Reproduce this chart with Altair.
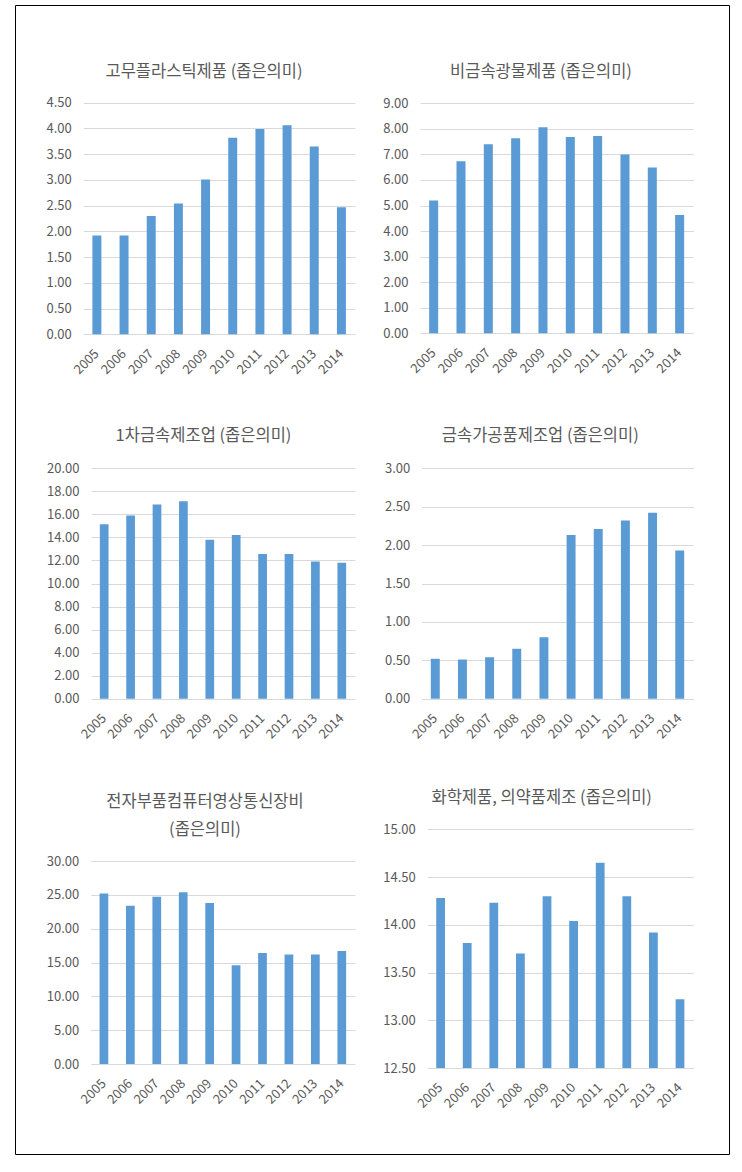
import altair as alt
import pandas as pd

years = ["2005", "2006", "2007", "2008", "2009", "2010", "2011", "2012", "2013", "2014"]

title1 = "고무플라스틱제품 (좁은의미)"
vals1 = [1.92, 1.92, 2.30, 2.54, 3.01, 3.82, 3.99, 4.06, 3.65, 2.47]
ticks1 = [0, 0.5, 1.0, 1.5, 2.0, 2.5, 3.0, 3.5, 4.0, 4.5]

title2 = "비금속광물제품 (좁은의미)"
vals2 = [5.20, 6.73, 7.40, 7.63, 8.06, 7.68, 7.72, 7.00, 6.49, 4.63]
ticks2 = [0, 1, 2, 3, 4, 5, 6, 7, 8, 9]

title3 = "1차금속제조업 (좁은의미)"
vals3 = [15.15, 15.90, 16.85, 17.15, 13.80, 14.20, 12.55, 12.55, 11.90, 11.80]
ticks3 = [0, 2, 4, 6, 8, 10, 12, 14, 16, 18, 20]

title4 = "금속가공품제조업 (좁은의미)"
vals4 = [0.52, 0.51, 0.54, 0.65, 0.80, 2.13, 2.21, 2.32, 2.42, 1.93]
ticks4 = [0, 0.5, 1.0, 1.5, 2.0, 2.5, 3.0]

title5 = ["전자부품컴퓨터영상통신장비", "(좁은의미)"]
vals5 = [25.2, 23.4, 24.7, 25.4, 23.8, 14.6, 16.4, 16.2, 16.2, 16.7]
ticks5 = [0, 5, 10, 15, 20, 25, 30]

title6 = "화학제품, 의약품제조 (좁은의미)"
vals6 = [14.28, 13.81, 14.23, 13.70, 14.30, 14.04, 14.65, 14.30, 13.92, 13.22]
ticks6 = [12.5, 13.0, 13.5, 14.0, 14.5, 15.0]

W, H = 714, 1149
FONT = "Noto Sans CJK KR"
TXT = "#595959"
BAR = "#5b9bd5"
GRID = "#d9d9d9"


def panel(vals, ticks, x0, x1, yb, yt):
    df = pd.DataFrame({"year": years, "value": vals})
    return alt.Chart(df).mark_bar(color=BAR).encode(
        x=alt.X(
            "year:O",
            sort=years,
            scale=alt.Scale(range=[x0, x1], paddingInner=0.67, paddingOuter=0.335),
            axis=alt.Axis(
                orient="bottom", offset=yb - H, title=None, labelAngle=-45,
                labelAlign="right", labelBaseline="middle", labelPadding=17,
                labelFont=FONT, labelFontSize=13, labelColor=TXT,
                domain=False, ticks=False, grid=False, labelOverlap=False,
            ),
        ),
        y=alt.Y(
            "value:Q",
            scale=alt.Scale(domain=[ticks[0], ticks[-1]], range=[yb, yt], zero=False, nice=False),
            axis=alt.Axis(
                orient="left", offset=-x0, title=None, values=ticks, format=".2f",
                labelFont=FONT, labelFontSize=13, labelColor=TXT, labelPadding=12,
                domain=False, ticks=False, grid=True, gridColor=GRID, gridWidth=1,
                labelOverlap=False, labelFlush=False,
            ),
        ),
        y2=alt.datum(ticks[0]),
        tooltip=["year:O", "value:Q"],
    )


def title(text, x, y):
    return alt.Chart(pd.DataFrame({"t": [text]})).mark_text(
        font=FONT, fontSize=16.5, color=TXT, align="center", baseline="middle"
    ).encode(text="t:N", x=alt.value(x), y=alt.value(y))


layers = [
    panel(vals1, ticks1, 68.3, 340, 329.3, 97.7),
    panel(vals2, ticks2, 405, 678.3, 328.3, 98.3),
    panel(vals3, ticks3, 76, 340, 693.7, 463.3),
    panel(vals4, ticks4, 406.7, 678.3, 693.7, 463.3),
    panel(vals5, ticks5, 75.7, 340, 1059, 856),
    panel(vals6, ticks6, 412.3, 678.3, 1063, 824.3),
    title(title1, 189, 66.7),
    title(title2, 526, 66.7),
    title(title3, 188.5, 431),
    title(title4, 525.3, 431),
    title(title5[0], 190, 796.7),
    title(title5[1], 190, 825),
    title(title6, 526.7, 793.3),
]

chart = (
    alt.layer(*layers)
    .resolve_scale(x="independent", y="independent")
    .resolve_axis(x="independent", y="independent")
    .properties(
        width=W, height=H,
        padding={"left": 15, "top": 5, "right": 13, "bottom": 18},
        autosize=alt.AutoSizeParams(type="none"),
        background="white",
    )
    .configure_view(stroke="black", strokeWidth=1)
)

chart.save("out.html", embed_options={"renderer": "svg", "actions": False})
